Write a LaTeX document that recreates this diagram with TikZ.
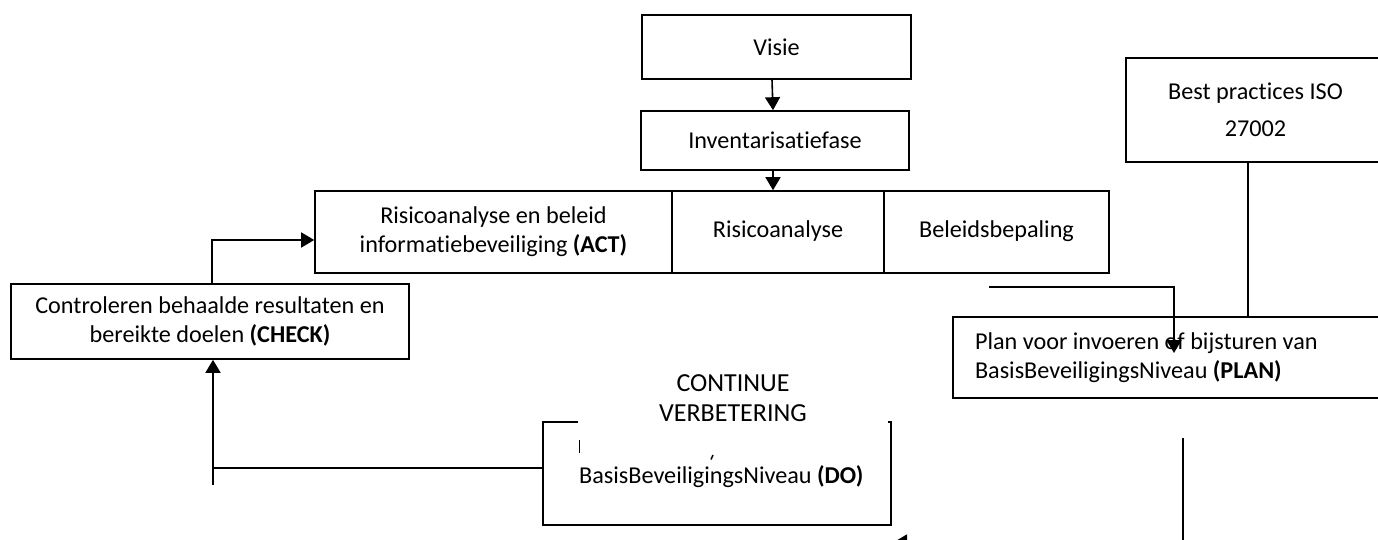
\documentclass[tikz,border=0pt]{standalone}
\usepackage{fontspec}
\setmainfont{Carlito}[Ligatures=NoCommon]
\usetikzlibrary{arrows.meta,calc}
\begin{document}
\begin{tikzpicture}[x=1pt,y=-1pt,
  box/.style={draw, line width=1.6pt, inner sep=0pt, font=\fontsize{24.2}{29}\selectfont, align=center},
  conn/.style={line width=1.6pt},
  arr/.style={conn, -{Triangle[length=13pt,width=15pt]}},
  lbl/.style={inner sep=0pt, font=\fontsize{24.2}{29}\selectfont}]
\clip (0,0) rectangle (1378,540);
\fill[white] (0,0) rectangle (1378,540);
% boxes
\node[box, minimum width=269pt, minimum height=64pt] (visie) at (776.5,47) {Visie};
\node[box, minimum width=268pt, minimum height=59pt] (inv) at (775,140.5) {Inventarisatiefase};
\node[box, minimum width=357pt, minimum height=82pt] (act) at (493.5,232) {Risicoanalyse en beleid\\informatiebeveiliging \textbf{(ACT)}};
\node[box, minimum width=212pt, minimum height=82pt] (risico) at (778,232) {\raisebox{6pt}{Risicoanalyse}};
\node[box, minimum width=225pt, minimum height=82pt] (beleid) at (996.5,232) {\raisebox{6pt}{Beleidsbepaling}};
\node[box, minimum width=259pt, minimum height=104pt, font=\fontsize{24.2}{37}\selectfont] (best) at (1255.5,110) {Best practices ISO\\27002};
\node[box, minimum width=432pt, minimum height=81pt, text width=388pt, inner xsep=22pt, align=flush left] (plan) at (1169,357.5) {Plan voor invoeren of bijsturen van\\BasisBeveiligingsNiveau \textbf{(PLAN)}};
\node[box, minimum width=398pt, minimum height=75pt] (check) at (210,321.5) {Controleren behaalde resultaten en\\bereikte doelen \textbf{(CHECK)}};
\node[box, minimum width=348pt, minimum height=103pt] (do) at (717,473.5) {};
\node[lbl, anchor=base west] (dotext) at (579,483) {BasisBeveiligingsNiveau \textbf{(DO)}};
\draw[line width=1.3pt] (579.5,440) -- (579.5,453);
\draw[line width=1.5pt] (713,455) -- (711,459.5);
\node[lbl, fill=white, minimum width=310pt, minimum height=66pt, align=center, font=\fontsize{26}{30}\selectfont] (cv) at (733,398) {CONTINUE\\VERBETERING};
% connectors
\draw[arr] ([xshift=-4.5pt]visie.south) -- ([xshift=-2pt]inv.north);
\draw[arr] ([xshift=-2pt]inv.south) -- ([xshift=-2pt]inv.south |- risico.north);
\draw[arr] ([xshift=2pt]check.north) |- ([yshift=-8pt]act.west);
\coordinate (c1) at (213,485);
\draw[arr] (c1) -- (c1 |- check.south);
\draw[conn] ([yshift=5.5pt]do.west) -- ([yshift=5.5pt]do.west -| c1);
\coordinate (c2) at (989,287);
\coordinate (c3) at (1174,353);
\draw[arr] (c2) -| (c3);
\draw[conn] ([xshift=-7.5pt]best.south) -- ([xshift=-7.5pt]best.south |- plan.north);
\coordinate (c4) at (1183,438);
\coordinate (c5) at (894,542);
\draw[arr] (c4) |- (c5);
\end{tikzpicture}
\end{document}
